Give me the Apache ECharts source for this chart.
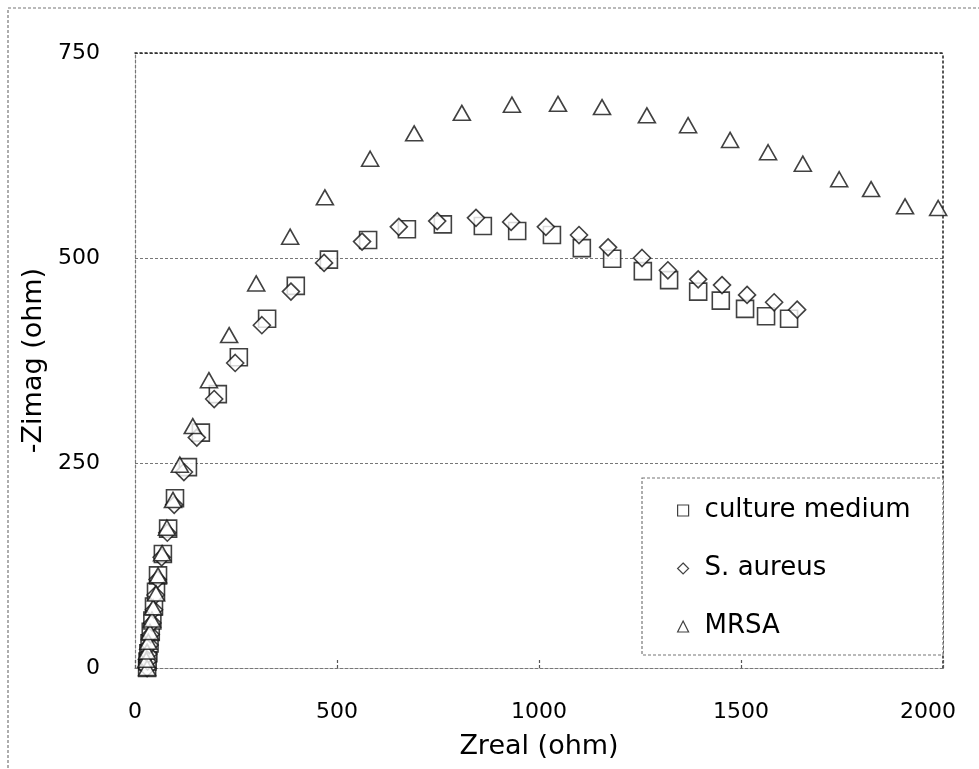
<!DOCTYPE html>
<html>
<head>
<meta charset="utf-8">
<script src="https://cdn.jsdelivr.net/npm/echarts@6/dist/echarts.min.js"></script>
<style>
html,body{margin:0;padding:0;background:#fff;overflow:hidden;}
#chart{width:979px;height:769px;}
</style>
</head>
<body>
<div id="chart"></div>
<script>
// Series names
var seriesNames = ['culture medium', 'S. aureus', 'MRSA'];

// culture medium (squares)
var cmX = [30, 31, 33, 36, 39, 43, 47, 52, 57, 69, 82, 99, 131, 163, 205, 257, 327, 398, 480, 577, 673, 762, 861, 946, 1032, 1106, 1181, 1257, 1322, 1394, 1450, 1510, 1562, 1619];
var cmY = [0, 8, 18, 30, 44, 58, 75, 93, 113, 139, 170, 207, 245, 287, 334, 379, 426, 466, 498, 522, 535, 541, 539, 533, 528, 512, 499, 484, 473, 459, 448, 438, 429, 426];

// S. aureus (diamonds)
var saX = [30, 31, 33, 36, 39, 43, 47, 51, 56, 66, 80, 97, 121, 153, 196, 248, 314, 386, 468, 562, 653, 748, 844, 931, 1017, 1099, 1171, 1255, 1319, 1394, 1453, 1515, 1582, 1639];
var saY = [0, 8, 17, 28, 41, 55, 71, 89, 108, 135, 165, 199, 239, 281, 328, 372, 418, 459, 494, 520, 538, 545, 549, 544, 538, 528, 513, 500, 485, 474, 467, 455, 446, 437];

// MRSA (triangles)
var mrX = [30, 28, 30, 33, 37, 42, 45, 52, 57, 67, 79, 94, 111, 143, 183, 233, 300, 384, 470, 582, 691, 809, 933, 1047, 1156, 1267, 1369, 1473, 1567, 1653, 1743, 1822, 1906, 1988];
var mrY = [0, 10, 20, 32, 44, 59, 74, 91, 113, 140, 171, 205, 248, 295, 351, 406, 469, 526, 574, 621, 652, 677, 687, 688, 684, 674, 662, 644, 629, 615, 596, 584, 563, 561];

// Axis ticks
var xTicks = [0, 500, 1000, 1500, 2000];
var yTicks = [0, 250, 500, 750];

function pairs(xs, ys) {
  var out = [];
  for (var i = 0; i < xs.length; i++) out.push([xs[i], ys[i]]);
  return out;
}

var FONT = 'DejaVu Sans';
var chart = echarts.init(document.getElementById('chart'), null, {renderer: 'canvas', width: 979, height: 769});

var markerStyle = {color: '#ffffff', borderColor: '#111111', borderWidth: 1.6};
var iconStyle = {color: '#fff', borderColor: '#111', borderWidth: 1.2};
var xMax = xTicks[xTicks.length - 1];

var option = {
  animation: false,
  backgroundColor: '#ffffff',
  grid: {left: 135, top: 53, right: 36, bottom: 101, containLabel: false, outerBoundsMode: 'none'},
  graphic: [
    {type: 'rect', z: 0, silent: true,
     shape: {x: 8, y: 8, width: 1000, height: 800},
     style: {fill: 'none', stroke: '#777', lineWidth: 1.2, lineDash: [3, 2]}},
    {type: 'rect', z: 3, silent: true,
     shape: {x: 642, y: 478, width: 301, height: 177},
     style: {fill: '#ffffff', stroke: '#777', lineWidth: 1.2, lineDash: [3, 2]}}
  ],
  legend: {
    orient: 'vertical',
    left: 642, top: 478,
    padding: [18, 20, 15, 35],
    itemGap: 29,
    itemWidth: 11, itemHeight: 11,
    z: 4,
    textStyle: {fontFamily: FONT, fontSize: 26, color: '#000', lineHeight: 29, padding: [0, 0, 0, 11]},
    data: [
      {name: seriesNames[0], icon: 'rect', itemStyle: iconStyle},
      {name: seriesNames[1], icon: 'diamond', itemStyle: iconStyle},
      {name: seriesNames[2], icon: 'triangle', itemStyle: iconStyle}
    ]
  },
  xAxis: [
    {
      type: 'value', min: xTicks[0], max: xMax, interval: 500,
      name: 'Zreal (ohm)', nameLocation: 'middle', nameGap: 65,
      nameTextStyle: {fontFamily: FONT, fontSize: 27, color: '#000'},
      axisLine: {show: true, lineStyle: {color: '#777', width: 1.2, type: [3, 2]}},
      axisTick: {show: true, inside: true, length: 8, lineStyle: {color: '#555', width: 1.2, type: [3, 2]}},
      axisLabel: {fontFamily: FONT, fontSize: 22, color: '#000', margin: 33,
                  formatter: function (v) { return v === xMax ? '{r|' + v + '}' : String(v); },
                  rich: {r: {fontFamily: FONT, fontSize: 22, color: '#000', padding: [0, 30, 0, 0]}}},
      splitLine: {show: false}
    },
    {
      type: 'value', position: 'top', min: 0, max: xMax, interval: 500,
      axisLine: {show: true, onZero: false, lineStyle: {color: '#222', width: 1.5, type: [2, 3]}},
      axisTick: {show: false}, axisLabel: {show: false}, splitLine: {show: false}
    }
  ],
  yAxis: [
    {
      type: 'value', min: yTicks[0], max: yTicks[yTicks.length - 1], interval: 250,
      name: '-Zimag (ohm)', nameLocation: 'middle', nameGap: 78, nameRotate: 90,
      nameTextStyle: {fontFamily: FONT, fontSize: 27, color: '#000'},
      axisLine: {show: true, lineStyle: {color: '#777', width: 1.2, type: [3, 2]}},
      axisTick: {show: false},
      axisLabel: {fontFamily: FONT, fontSize: 22, color: '#000', margin: 35,
                  formatter: function (v) { return String(v); }},
      splitLine: {show: true, lineStyle: {color: '#777', width: 1.2, type: [3, 2]}}
    },
    {
      type: 'value', position: 'right', min: 0, max: 750, interval: 250,
      axisLine: {show: true, onZero: false, lineStyle: {color: '#222', width: 1.5, type: [2, 3]}},
      axisTick: {show: false}, axisLabel: {show: false}, splitLine: {show: false}
    }
  ],
  series: [
    {name: seriesNames[0], type: 'scatter', symbol: 'rect', symbolSize: 17,
     itemStyle: markerStyle, data: pairs(cmX, cmY), z: 5},
    {name: seriesNames[1], type: 'scatter', symbol: 'diamond', symbolSize: 17,
     itemStyle: markerStyle, data: pairs(saX, saY), z: 6},
    {name: seriesNames[2], type: 'scatter', symbol: 'triangle', symbolSize: [17, 15],
     itemStyle: markerStyle, data: pairs(mrX, mrY), z: 7}
  ]
};
chart.setOption(option);
</script>
</body>
</html>
